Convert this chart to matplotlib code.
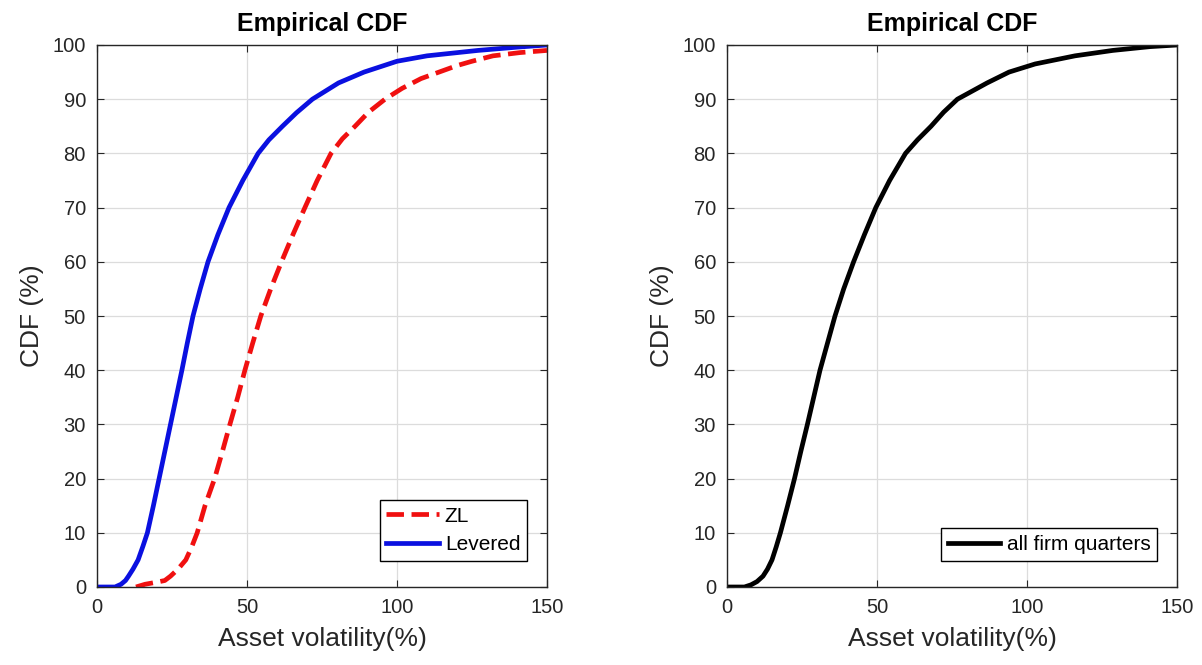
import matplotlib

matplotlib.use("Agg")

import matplotlib.pyplot as plt
import numpy as np

plt.rcParams["font.family"] = ["Liberation Sans", "DejaVu Sans"]

# Empirical CDF points (asset volatility %, CDF %)
zl_vol = [13, 16, 20, 22.6, 24.5, 27, 29.6, 31.5, 33.4, 36, 39.2, 41.8, 44.3,
          46.9, 49.3, 51.9, 54.6, 57.9, 61.5, 65.3, 69.3, 73.4, 78, 81.8, 86,
          90.5, 96, 101.7, 108, 114, 120, 125, 132, 141, 150]
zl_cdf = [0, 0.5, 0.9, 1.2, 2, 3.3, 5, 7.3, 10, 15, 20, 25, 30,
          35, 40, 45, 50, 55, 60, 65, 70, 75, 80, 82.7, 85,
          87.6, 90, 92, 93.8, 95, 96.2, 97, 98, 98.6, 99]

lev_vol = [0, 6, 8, 9.5, 10.5, 12, 13.7, 15.3, 16.8, 18.8, 20.7, 22.6, 24.5,
           26.4, 28.3, 30.1, 32, 34.4, 37, 40.3, 44, 48.6, 53.7, 57.3, 61.8,
           66.5, 71.8, 80.5, 89, 100, 110, 127, 140, 150]
lev_cdf = [0, 0, 0.5, 1.2, 2, 3.3, 5, 7.5, 10, 15, 20, 25, 30,
           35, 40, 45, 50, 55, 60, 65, 70, 75, 80, 82.5, 85,
           87.5, 90, 93, 95, 97, 98, 99, 99.6, 100]

all_vol = [0, 5.8, 8, 10, 12, 13.5, 15, 16.4, 17.8, 20.2, 22.5, 24.6, 26.8,
           28.9, 31, 33.5, 36, 38.9, 42.2, 45.8, 49.6, 54.2, 59.5, 63.5,
           68, 72.2, 76.8, 86.7, 94, 102.7, 116, 128.6, 141, 150]
all_cdf = [0, 0, 0.4, 1, 2, 3.3, 5, 7.4, 10, 15, 20, 25, 30,
           35, 40, 45, 50, 55, 60, 65, 70, 75, 80, 82.5,
           85, 87.6, 90, 93, 95, 96.5, 98, 99, 99.7, 100]

_AX = "#262626"
_GRID = "#dcdcdc"


def _style(ax):
    ax.set_xlim(0, 150)
    ax.set_ylim(0, 100)
    ax.set_xticks([0, 50, 100, 150])
    ax.set_yticks(np.arange(0, 101, 10))
    ax.tick_params(direction="in", length=5, width=0.8, top=True, right=True,
                   labelsize=14.5, colors=_AX, pad=8)
    for sp in ax.spines.values():
        sp.set_color(_AX)
        sp.set_linewidth(1.0)
    ax.grid(True, color=_GRID, lw=0.9)
    ax.set_axisbelow(True)
    ax.set_xlabel("Asset volatility(%)", fontsize=19, color=_AX, labelpad=7)
    ax.set_ylabel("CDF (%)", fontsize=19, color=_AX, labelpad=6)
    ax.set_title("Empirical CDF", fontsize=18, fontweight="bold", pad=10)


def _legend(ax, spacing):
    leg = ax.legend(loc="lower right", bbox_to_anchor=(0.956, 0.048),
                    fontsize=15, fancybox=False, edgecolor="black",
                    framealpha=1, handlelength=2.5, handletextpad=0.3,
                    borderpad=0.33, labelspacing=spacing, borderaxespad=0)
    leg.get_frame().set_linewidth(1.0)
    return leg


fig = plt.figure(figsize=(12.02, 6.65), dpi=100)
ax1 = fig.add_axes([97 / 1202, 1 - 587 / 665, 450 / 1202, 542 / 665])
ax2 = fig.add_axes([727 / 1202, 1 - 587 / 665, 450 / 1202, 542 / 665])

ax1.plot(zl_vol, zl_cdf, color="#f01010", lw=3.4, ls="--", label="ZL")
ax1.plot(lev_vol, lev_cdf, color="#0a10e0", lw=3.4, label="Levered")
_style(ax1)
_legend(ax1, 0.45)

ax2.plot(all_vol, all_cdf, color="black", lw=3.4, label="all firm quarters")
_style(ax2)
_legend(ax2, 0.3)

fig.savefig("out.png", dpi=100)
